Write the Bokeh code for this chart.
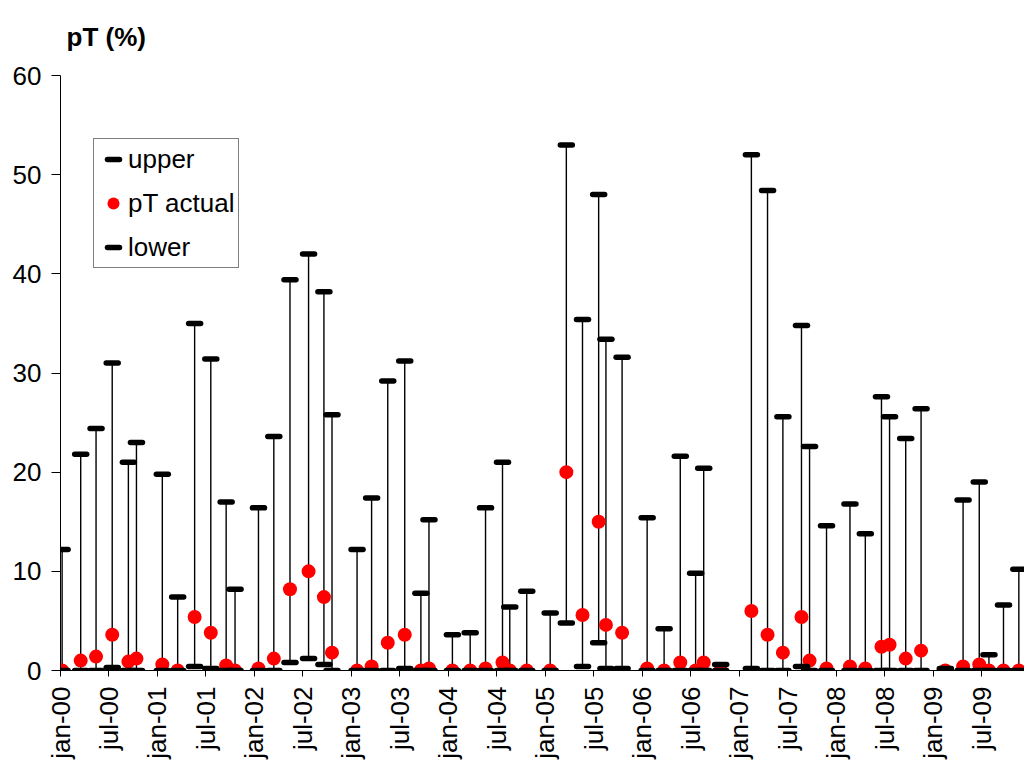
from math import pi
from bokeh.plotting import figure
from bokeh.models import ColumnDataSource, FixedTicker, Range1d, Legend, LegendItem
from bokeh.embed import file_html
from bokeh.resources import INLINE

# months since january 2000 for each observation
months = [0.2, 2.5, 4.4, 6.4, 8.4, 9.4, 12.6, 14.5, 16.6, 18.6, 20.5, 21.6,
          24.5, 26.4, 28.4, 30.7, 32.6, 33.6, 36.7, 38.5, 40.5, 42.6, 44.6, 45.6,
          48.5, 50.7, 52.6, 54.7, 55.6, 57.7, 60.6, 62.6, 64.6, 66.6, 67.5, 69.5,
          72.6, 74.7, 76.7, 78.6, 79.6, 81.7, 85.5, 87.5, 89.4, 91.7, 92.7, 94.8,
          97.7, 99.6, 101.6, 102.6, 104.6, 106.5, 109.5, 111.7, 113.7, 114.9, 116.7, 118.6]
upper = [12.2, 21.8, 24.4, 31.0, 21.0, 23.0, 19.8, 7.4, 35.0, 31.4, 17.0, 8.2,
         16.4, 23.6, 39.4, 42.0, 38.2, 25.8, 12.2, 17.4, 29.2, 31.2, 7.8, 15.2,
         3.6, 3.8, 16.4, 21.0, 6.4, 8.0, 5.8, 53.0, 35.4, 48.0, 33.4, 31.6,
         15.4, 4.2, 21.6, 9.8, 20.4, 0.6, 52.0, 48.4, 25.6, 34.8, 22.6, 14.6,
         16.8, 13.8, 27.6, 25.6, 23.4, 26.4, 0.2, 17.2, 19.0, 1.6, 6.6, 10.2]
actual = [0.0, 1.0, 1.4, 3.6, 0.9, 1.2, 0.6, 0.0, 5.4, 3.8, 0.5, 0.0,
          0.2, 1.2, 8.2, 10.0, 7.4, 1.8, 0.0, 0.4, 2.8, 3.6, 0.0, 0.2,
          0.0, 0.0, 0.2, 0.8, 0.0, 0.0, 0.0, 20.0, 5.6, 15.0, 4.6, 3.8,
          0.2, 0.0, 0.8, 0.0, 0.8, 0.0, 6.0, 3.6, 1.8, 5.4, 1.0, 0.2,
          0.4, 0.2, 2.4, 2.6, 1.2, 2.0, 0.0, 0.4, 0.6, 0.0, 0.0, 0.0]
lower = [0.0, 0.0, 0.0, 0.3, 0.0, 0.0, 0.0, 0.0, 0.4, 0.2, 0.0, 0.0,
         0.0, 0.0, 0.8, 1.2, 0.6, 0.0, 0.0, 0.0, 0.0, 0.2, 0.0, 0.0,
         0.0, 0.0, 0.0, 0.0, 0.0, 0.0, 0.0, 4.8, 0.4, 2.8, 0.2, 0.2,
         0.0, 0.0, 0.0, 0.0, 0.0, 0.0, 0.2, 0.0, 0.0, 0.4, 0.0, 0.0,
         0.0, 0.0, 0.0, 0.0, 0.0, 0.0, 0.0, 0.0, 0.0, 0.0, 0.0, 0.0]

x_ticks = list(range(0, 120, 6))
x_tick_labels = ["jan-00", "jul-00", "jan-01", "jul-01", "jan-02", "jul-02",
                 "jan-03", "jul-03", "jan-04", "jul-04", "jan-05", "jul-05",
                 "jan-06", "jul-06", "jan-07", "jul-07", "jan-08", "jul-08",
                 "jan-09", "jul-09"]
y_ticks = [0, 10, 20, 30, 40, 50, 60]
y_title = "pT (%)"

FONT = "Liberation Sans"

src = ColumnDataSource(dict(month=months, upper=upper, actual=actual, lower=lower))

p = figure(width=1024, height=761, output_backend="svg", toolbar_location=None,
           x_range=Range1d(0, 119.3), y_range=Range1d(0, 60),
           min_border_left=60, min_border_right=0, min_border_top=73, min_border_bottom=89,
           background_fill_color="white", border_fill_color="white")
p.outline_line_color = None
p.xgrid.visible = False
p.ygrid.visible = False

p.title.text = y_title
p.title.align = "left"
p.title.vertical_align = "top"
p.title.offset = 6
p.title.standoff = 43
p.title.text_font = FONT
p.title.text_font_size = "26px"
p.title.text_font_style = "bold"
p.title.text_color = "black"

p.segment("month", "lower", "month", "upper", source=src, line_color="black", line_width=1.4)
r_act = p.scatter("month", "actual", source=src, size=14, fill_color="#ff0000", line_color=None)
r_up = p.scatter("month", "upper", source=src, marker="dash", size=12, line_color="black",
                 line_width=5.5, line_cap="round")
r_lo = p.scatter("month", "lower", source=src, marker="dash", size=12, line_color="black",
                 line_width=5.5, line_cap="round")

legend = Legend(items=[LegendItem(label="upper", renderers=[r_up]),
                       LegendItem(label="pT actual", renderers=[r_act]),
                       LegendItem(label="lower", renderers=[r_lo])],
                location=(33, 402), padding=4, spacing=12, glyph_width=30, glyph_height=32,
                label_standoff=0, label_text_font=FONT, label_text_font_size="26px",
                label_text_color="black", border_line_color="black", border_line_width=1,
                background_fill_color="white", background_fill_alpha=1.0)
p.add_layout(legend)

yax = p.yaxis[0]
yax.ticker = FixedTicker(ticks=y_ticks)
yax.major_label_text_font = FONT
yax.major_label_text_font_size = "26px"
yax.major_label_text_color = "black"
yax.axis_line_color = "black"
yax.major_tick_line_color = "black"
yax.major_tick_out = 9
yax.major_tick_in = 0
yax.minor_tick_out = 0
yax.minor_tick_in = 0
yax.major_label_standoff = 10

xax = p.xaxis[0]
xax.ticker = FixedTicker(ticks=x_ticks)
xax.major_label_overrides = {t: lab for t, lab in zip(x_ticks, x_tick_labels)}
xax.major_label_orientation = pi / 2
xax.major_label_text_font = FONT
xax.major_label_text_font_size = "26px"
xax.major_label_text_color = "black"
xax.axis_line_color = "black"
xax.major_tick_line_color = "black"
xax.major_tick_out = 6
xax.major_tick_in = 0
xax.minor_tick_out = 0
xax.minor_tick_in = 0
xax.major_label_standoff = 10

open("out.html", "w").write(file_html(p, INLINE))
